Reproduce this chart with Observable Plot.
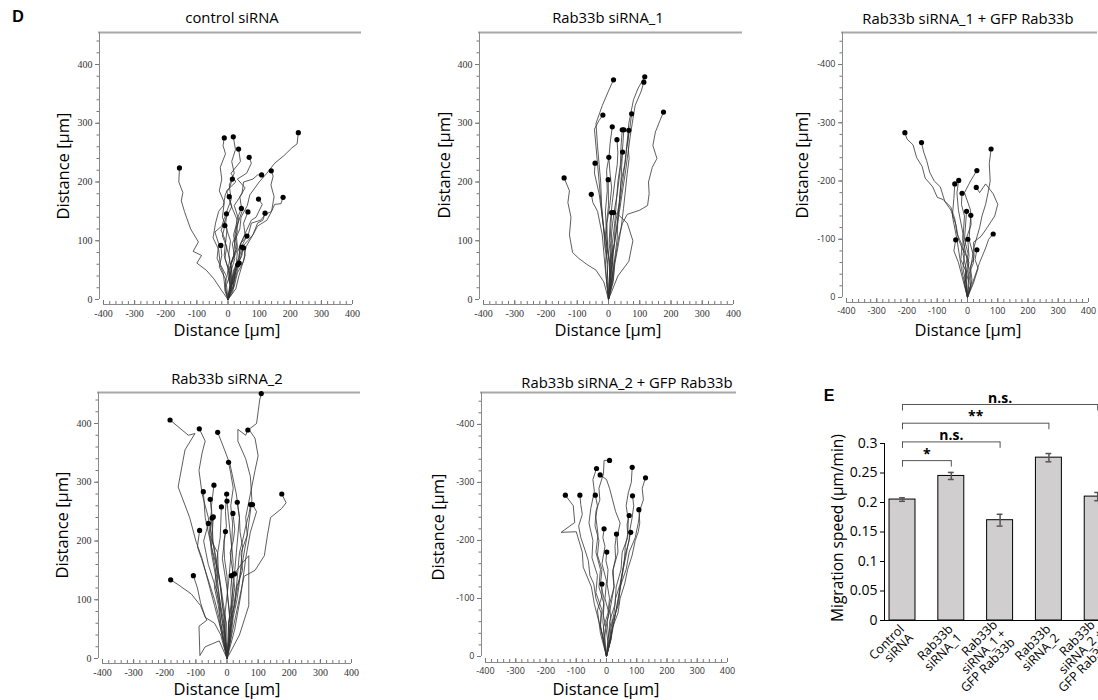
<!DOCTYPE html>
<html><head><meta charset="utf-8">
<script src="https://cdn.jsdelivr.net/npm/d3@7"></script>
<script src="https://cdn.jsdelivr.net/npm/@observablehq/plot@0.6"></script>
<style>
body{margin:0;background:#fff;overflow:hidden;font-family:"Open Sans",sans-serif;}
#root{position:relative;width:1098px;height:700px;overflow:hidden;background:#fff;}
.t{position:absolute;white-space:nowrap;transform:translate(-50%,-50%);color:#000;line-height:1;}
.title{font-size:14.8px;}
.lab{font-size:16.5px;}
.rot{transform:translate(-50%,-50%) rotate(-90deg);}
.panel{font-family:"Liberation Sans",Arial,sans-serif;font-weight:bold;font-size:16px;}
</style></head><body><div id="root"></div><script>
// ---------- DATA ----------
const xMajor = [-400,-300,-200,-100,0,100,200,300,400];
const yMajor = [0,100,200,300,400];

// Trajectories (x, y in µm), each track from origin to its end point
const controlTracks = [
  [[0,0],[-20,15],[-45,35],[-70,50],[-100,62],[-85,75],[-112,82],[-95,98],[-120,120],[-140,150],[-150,168],[-145,182],[-158,200],[-156,224]],
  [[0,0],[8,20],[-2,45],[6,70],[-8,95],[-3,120],[-18,140],[-12,165],[-28,185],[-20,205],[-25,225],[-8,248],[-16,262],[-12,275]],
  [[0,0],[-5,25],[12,50],[2,75],[8,100],[-8,125],[-4,150],[10,170],[4,195],[20,215],[12,235],[24,255],[17,277]],
  [[0,0],[10,30],[6,55],[25,85],[18,110],[30,135],[10,160],[-5,185],[25,200],[10,215],[40,235],[34,256]],
  [[0,0],[12,30],[8,60],[30,90],[25,120],[45,150],[38,175],[55,190],[30,205],[60,215],[75,232],[68,242]],
  [[0,0],[8,25],[4,50],[18,75],[22,100],[38,120],[42,140],[62,160],[70,178],[100,200],[125,215],[150,232],[180,245],[205,258],[222,265],[226,284]],
  [[0,0],[10,25],[18,50],[35,70],[40,95],[65,110],[75,130],[105,135],[120,145],[140,150],[148,175],[138,195],[145,210],[139,219]],
  [[0,0],[15,30],[10,60],[30,85],[22,110],[35,135],[20,160],[45,180],[50,200],[80,205],[95,212],[108,212]],
  [[0,0],[-8,20],[-5,40],[-25,60],[-30,85],[-48,105],[-40,130],[-30,150],[-15,160],[-8,180],[5,190],[14,205]],
  [[0,0],[6,25],[2,50],[-12,75],[-8,100],[-22,118],[-5,140],[12,158],[4,175]],
  [[0,0],[12,25],[20,50],[40,70],[50,92],[80,110],[95,125],[125,135],[140,150],[150,162],[170,163],[177,174]],
  [[0,0],[15,30],[25,50],[30,80],[45,100],[60,118],[75,135],[90,140],[110,162],[98,171]],
  [[0,0],[12,20],[8,45],[22,70],[14,95],[30,115],[28,135],[43,155]],
  [[0,0],[18,25],[22,50],[35,72],[40,95],[55,110],[50,130],[64,149]],
  [[0,0],[20,22],[30,45],[50,65],[58,90],[80,110],[95,130],[112,135],[119,147]],
  [[0,0],[-10,20],[-15,45],[-35,70],[-30,95],[-42,115],[-20,125],[-12,138],[-5,146]],
  [[0,0],[8,25],[2,50],[-10,70],[-4,90],[-18,108],[-10,126]],
  [[0,0],[10,20],[20,45],[30,60],[45,75],[48,95],[61,108]],
  [[0,0],[-10,15],[-8,35],[-28,55],[-20,75],[-23,92]],
  [[0,0],[15,20],[22,40],[30,55],[38,75],[45,89]],
  [[0,0],[25,18],[35,40],[45,58],[55,75],[50,88]],
  [[0,0],[15,12],[20,30],[28,45],[36,62]],
  [[0,0],[5,20],[20,32],[25,48],[31,59]]
];
const sirna1Tracks = [
  [[0,0],[-5,30],[-2,60],[-12,90],[-15,120],[-22,160],[-25,200],[-30,230],[-35,260],[-40,300],[-28,318],[-20,330],[0,355],[16,374]],
  [[0,0],[10,60],[25,120],[40,180],[55,240],[65,300],[80,340],[95,360],[116,379]],
  [[0,0],[15,80],[35,150],[55,220],[70,280],[85,330],[105,355],[113,370]],
  [[0,0],[8,25],[15,50],[25,80],[32,105],[45,130],[60,145],[100,152],[125,160],[130,180],[128,200],[140,225],[155,240],[142,262],[150,285],[165,305],[176,319]],
  [[0,0],[8,30],[5,60],[18,95],[22,130],[35,165],[40,200],[52,230],[58,260],[68,290],[74,316]],
  [[0,0],[-5,70],[-20,140],[-30,200],[-40,260],[-45,290],[-30,305],[-18,314]],
  [[0,0],[6,35],[2,70],[-6,110],[-10,150],[-4,185],[-6,220],[2,245],[5,265],[12,294]],
  [[0,0],[12,30],[15,60],[12,95],[20,130],[25,165],[30,200],[38,230],[40,260],[44,289]],
  [[0,0],[3,40],[8,80],[10,115],[18,150],[28,180],[35,210],[42,240],[46,265],[49,289]],
  [[0,0],[15,30],[20,60],[32,95],[40,120],[48,155],[55,190],[60,215],[66,240],[62,265],[65,288]],
  [[0,0],[8,30],[10,60],[2,95],[5,130],[12,165],[20,200],[28,230],[30,250],[27,272]],
  [[0,0],[15,35],[20,70],[28,105],[30,140],[35,170],[40,200],[42,225],[45,251]],
  [[0,0],[-6,30],[-10,60],[-4,95],[-5,130],[4,160],[10,190],[5,215],[1,242]],
  [[0,0],[5,60],[-15,120],[-30,180],[-45,215],[-43,232]],
  [[0,0],[-15,30],[-40,50],[-70,60],[-95,70],[-115,80],[-125,110],[-120,140],[-130,165],[-125,185],[-142,207]],
  [[0,0],[5,50],[-10,110],[0,160],[-1,204]],
  [[0,0],[-10,50],[-20,110],[-35,150],[-50,165],[-55,179]],
  [[0,0],[15,50],[5,100],[10,148]],
  [[0,0],[30,40],[65,65],[78,100],[60,130],[30,145],[16,148]]
];
const sirna1GfpTracks = [
  [[0,0],[-8,-20],[-5,-45],[-22,-65],[-18,-90],[-35,-110],[-42,-135],[-55,-155],[-80,-168],[-100,-172],[-115,-190],[-140,-205],[-150,-225],[-168,-240],[-180,-262],[-200,-272],[-207,-283]],
  [[0,0],[-5,-25],[-15,-50],[-10,-75],[-30,-100],[-38,-125],[-55,-150],[-75,-165],[-90,-190],[-110,-200],[-125,-215],[-135,-235],[-145,-250],[-152,-266]],
  [[0,0],[10,-20],[5,-40],[20,-60],[18,-80],[40,-120],[48,-140],[60,-160],[68,-180],[75,-200],[72,-230],[78,-255]],
  [[0,0],[-10,-25],[-5,-50],[-15,-75],[-5,-100],[12,-125],[10,-150],[-10,-180],[10,-200],[31,-218]],
  [[0,0],[-5,-30],[5,-60],[-15,-85],[-15,-110],[-30,-150],[-35,-180],[-29,-201]],
  [[0,0],[-20,-50],[-35,-100],[-50,-140],[-45,-170],[-42,-195]],
  [[0,0],[12,-25],[8,-50],[22,-70],[20,-95],[45,-105],[65,-120],[90,-140],[100,-160],[85,-178],[60,-195],[40,-180],[29,-189]],
  [[0,0],[5,-50],[-15,-100],[-10,-140],[-20,-160],[-18,-179]],
  [[0,0],[5,-25],[-8,-50],[2,-75],[-10,-100],[-3,-148]],
  [[0,0],[15,-30],[10,-50],[18,-75],[5,-100],[11,-141]],
  [[0,0],[20,-30],[40,-60],[60,-85],[70,-100],[85,-109]],
  [[0,0],[-5,-40],[5,-70],[1,-100]],
  [[0,0],[-15,-30],[-30,-60],[-45,-80],[-39,-99]],
  [[0,0],[20,-25],[35,-50],[25,-65],[31,-82]]
];
const sirna2Tracks = [
  [[0,0],[10,30],[5,60],[25,90],[30,120],[50,150],[45,180],[65,210],[60,240],[75,280],[90,320],[100,345],[90,375],[70,390],[95,400],[100,420],[105,440],[110,451]],
  [[0,0],[-20,50],[-40,90],[-60,130],[-80,170],[-100,200],[-120,240],[-157,292],[-135,355],[-103,383],[-124,380],[-183,406]],
  [[0,0],[-10,60],[-30,120],[-50,180],[-60,240],[-80,280],[-90,320],[-80,350],[-70,370],[-89,391]],
  [[0,0],[5,60],[20,120],[30,180],[40,240],[30,280],[10,330],[-15,365],[-30,385]],
  [[0,0],[20,80],[45,150],[65,210],[80,270],[75,310],[60,340],[35,370],[35,390],[60,380],[67,389]],
  [[0,0],[10,40],[15,80],[12,120],[20,160],[15,195],[18,230],[12,260],[20,290],[12,315],[5,334]],
  [[0,0],[-15,60],[-30,130],[-50,190],[-70,240],[-76,284]],
  [[0,0],[-10,70],[-25,140],[-45,200],[-50,260],[-42,295]],
  [[0,0],[15,40],[35,90],[55,140],[90,150],[120,175],[130,210],[140,240],[175,255],[190,265],[176,280]],
  [[0,0],[-5,30],[-2,60],[-15,90],[-20,120],[-32,150],[-40,180],[-48,205],[-55,230],[-50,250],[-54,271]],
  [[0,0],[8,35],[10,70],[2,105],[0,140],[-8,170],[-10,200],[-2,225],[-5,250],[-1,280]],
  [[0,0],[-10,60],[5,130],[15,190],[5,240],[0,268]],
  [[0,0],[12,35],[20,70],[32,100],[40,130],[45,160],[50,190],[42,215],[40,240],[33,266]],
  [[0,0],[-10,30],[-20,60],[-25,90],[-35,120],[-28,150],[-30,180],[-22,205],[-20,230],[-18,258]],
  [[0,0],[8,30],[15,60],[22,90],[30,120],[35,150],[40,180],[52,205],[60,225],[70,245],[76,262]],
  [[0,0],[25,50],[45,110],[60,170],[75,215],[95,250],[82,262]],
  [[0,0],[5,30],[5,60],[15,90],[25,120],[18,150],[10,180],[20,200],[25,220],[19,247]],
  [[0,0],[-5,70],[-25,140],[-50,190],[-44,241]],
  [[0,0],[-10,30],[-20,60],[-28,90],[-40,120],[-35,150],[-30,180],[-45,195],[-55,210],[-48,239]],
  [[0,0],[-10,50],[-30,110],[-60,160],[-75,200],[-60,230]],
  [[0,0],[-10,25],[-20,50],[-28,75],[-40,100],[-55,125],[-70,150],[-82,170],[-95,190],[-88,218]],
  [[0,0],[10,60],[0,120],[-15,170],[-5,216]],
  [[0,0],[-25,30],[-70,20],[-87,5],[-90,55],[-65,65],[-85,90],[-115,110],[-155,125],[-181,134]],
  [[0,0],[-20,40],[-40,60],[-70,70],[-85,95],[-95,120],[-108,141]],
  [[0,0],[10,50],[20,100],[14,141]],
  [[0,0],[40,40],[70,90],[70,175],[45,160],[24,144]]
];
const sirna2GfpTracks = [
  [[0,0],[-8,-25],[-2,-50],[-12,-75],[-8,-100],[-20,-125],[-15,-150],[-30,-175],[-25,-200],[-38,-225],[-35,-250],[-22,-270],[-25,-290],[-10,-315],[-8,-338],[10,-338]],
  [[0,0],[-10,-25],[-20,-55],[-15,-80],[-35,-110],[-30,-140],[-48,-170],[-45,-200],[-58,-230],[-52,-255],[-40,-285],[-45,-305],[-33,-324]],
  [[0,0],[12,-30],[10,-60],[28,-90],[32,-120],[48,-150],[52,-180],[70,-205],[72,-235],[65,-260],[72,-282],[82,-300],[85,-326]],
  [[0,0],[5,-30],[15,-60],[10,-90],[25,-120],[22,-150],[38,-180],[35,-205],[45,-230],[30,-250],[20,-270],[10,-290],[0,-305],[-21,-313]],
  [[0,0],[15,-30],[20,-60],[40,-90],[45,-120],[65,-150],[75,-180],[95,-205],[105,-230],[112,-255],[122,-270],[118,-290],[129,-308]],
  [[0,0],[-15,-40],[-40,-90],[-50,-120],[-77,-154],[-80,-180],[-100,-215],[-150,-214],[-105,-231],[-110,-260],[-136,-278]],
  [[0,0],[-8,-25],[-20,-50],[-18,-75],[-35,-100],[-42,-125],[-55,-140],[-60,-165],[-72,-185],[-85,-205],[-92,-225],[-80,-245],[-85,-262],[-88,-278]],
  [[0,0],[-5,-30],[-12,-60],[-8,-90],[-25,-120],[-20,-150],[-35,-180],[-28,-210],[-35,-240],[-30,-260],[-37,-278]],
  [[0,0],[10,-25],[15,-50],[25,-75],[30,-100],[45,-125],[55,-150],[62,-175],[75,-200],[78,-220],[85,-240],[90,-260],[86,-277]],
  [[0,0],[12,-25],[20,-50],[38,-75],[45,-100],[60,-125],[70,-150],[85,-175],[95,-200],[105,-215],[110,-230],[107,-253]],
  [[0,0],[15,-30],[25,-60],[35,-90],[45,-120],[52,-145],[60,-170],[62,-190],[70,-210],[68,-228],[75,-243]],
  [[0,0],[5,-25],[-2,-50],[8,-75],[-5,-100],[0,-130],[-15,-160],[-5,-190],[-12,-205],[-8,-220]],
  [[0,0],[8,-30],[2,-60],[15,-90],[25,-120],[20,-145],[30,-170],[28,-190],[33,-211]],
  [[0,0],[10,-25],[20,-50],[30,-75],[40,-100],[48,-125],[55,-150],[65,-175],[70,-190],[80,-214]],
  [[0,0],[-8,-25],[-10,-50],[5,-75],[10,-100],[2,-125],[5,-150],[-2,-165],[1,-180]],
  [[0,0],[-10,-20],[-20,-40],[-25,-60],[-30,-80],[-20,-95],[-15,-105],[-15,-125]]
];

// Bar chart (E)
const speedCats = ["Control siRNA","Rab33b siRNA_1","Rab33b siRNA_1 + GFP Rab33b","Rab33b siRNA_2","Rab33b siRNA_2 + GFP Rab33b"];
const speedLabels = ["Control\nsiRNA","Rab33b\nsiRNA_1","Rab33b\nsiRNA_1 +\nGFP Rab33b","Rab33b\nsiRNA_2","Rab33b\nsiRNA_2 +\nGFP Rab33b"];
const speedMean = [0.205,0.245,0.170,0.276,0.210];
const speedErr = [0.003,0.006,0.010,0.007,0.007];
const speedTicks = [0,0.05,0.1,0.15,0.2,0.25,0.3];
const sigTargets = [1,2,3,4];           // compared with control (index 0)
const sigLabels = ["*","n.s.","**","n.s."];

// ---------- DRAW ----------
const root = document.getElementById("root");
function place(el, left, top){
  el.style.position="absolute"; el.style.left=left+"px"; el.style.top=top+"px";
  el.style.background="transparent"; el.style.overflow="visible"; el.style.maxWidth="none";
  root.appendChild(el);
}
function addText(txt, cx, cy, cls){
  const d=document.createElement("div"); d.className="t "+cls; d.textContent=txt;
  d.style.left=cx+"px"; d.style.top=cy+"px"; root.appendChild(d); return d;
}

function trajPanel(tracks, L){
  const s = L.neg ? -1 : 1;
  const rows = tracks.flatMap((t,i)=>t.map(([x,y])=>({x,y,track:i})));
  const ends = tracks.map(t=>({x:t[t.length-1][0], y:t[t.length-1][1]}));
  const fmt = d => String(d);
  const tickFont = L.serif ? "Liberation Serif" : "Open Sans";
  const tickFs = L.serif ? 10 : 9;
  const yTop = L.yDomain[1];
  return Plot.plot({
    width:370, height:350,
    marginLeft:L.ml, marginRight:L.mr, marginTop:L.mt, marginBottom:L.mb,
    x:{domain:[-400,400]},
    y:{domain:L.yDomain},
    marks:[
      Plot.ruleY([yTop],{stroke:"#a8a8a8",strokeWidth:2,insetLeft:-5,insetRight:-9}),
      Plot.ruleX([-400],{y1:0,y2:yTop,dx:-4,stroke:"#8a8a8a"}),
      Plot.ruleY([L.yDomain[0]],{stroke:"#8a8a8a"}),
      Plot.axisY(d3.range(0,441,20).map(v=>v*s),{anchor:"left",tickSize:2.5,dx:-4,fill:"none",stroke:"#777",label:null}),
      Plot.axisY(yMajor.map(v=>v*s),{anchor:"left",tickSize:4,tickPadding:3,dx:-4,tickFormat:fmt,stroke:"#777",fill:"#333",fontSize:tickFs,fontFamily:tickFont,label:null}),
      Plot.axisX(d3.range(-400,401,20),{anchor:"bottom",tickSize:-3,fill:"none",stroke:"#777",label:null}),
      Plot.axisX(xMajor,{anchor:"bottom",tickSize:-4,stroke:"#777",fill:"none",label:null}),
      Plot.axisX(xMajor,{anchor:"bottom",tickSize:0,tickPadding:5,tickFormat:fmt,fill:"#333",fontSize:tickFs,fontFamily:tickFont,label:null}),
      Plot.line(rows,{x:"x",y:"y",z:"track",stroke:"#333",strokeWidth:0.8}),
      Plot.dot(ends,{x:"x",y:"y",r:2.6,fill:"#000"})
    ]
  });
}

const panels = [
  {tracks:controlTracks, title:"control siRNA", left:0, top:0, ml:103, mr:18, mt:32, mb:46, yDomain:[-8.5,454.5], serif:true,
   tx:232, ty:17, xl:[227,330], yl:[63,166]},
  {tracks:sirna1Tracks, title:"Rab33b siRNA_1", left:370, top:0, ml:113, mr:7, mt:32, mb:46, yDomain:[-8.5,454.5], serif:true,
   tx:608, ty:17, xl:[608,330], yl:[444,165]},
  {tracks:sirna1GfpTracks, title:"Rab33b siRNA_1 + GFP Rab33b", left:740, top:0, ml:106, mr:22, mt:32, mb:48, yDomain:[8.6,-455], serif:false, neg:true,
   tx:968, ty:18, xl:[968,330], yl:[802,165]},
  {tracks:sirna2Tracks, title:"Rab33b siRNA_2", left:0, top:350, ml:102, mr:19, mt:42, mb:37, yDomain:[-8.5,452.8], serif:true,
   tx:227, ty:378, xl:[227,689], yl:[62,525]},
  {tracks:sirna2GfpTracks, title:"Rab33b siRNA_2 + GFP Rab33b", left:400, top:350, ml:85, mr:43, mt:42, mb:38, yDomain:[10.3,-455], serif:false, neg:true,
   tx:627, ty:382, xl:[606,689], yl:[438,527]}
];
for (const p of panels){
  place(trajPanel(p.tracks, p), p.left, p.top);
  addText(p.title, p.tx, p.ty, "title");
  addText("Distance [µm]", p.xl[0], p.xl[1], "lab");
  addText("Distance [µm]", p.yl[0], p.yl[1], "lab rot");
}

// Bar chart E
const half = 0.266, cap = 0.06;
const bars = speedCats.map((c,i)=>({i, cat:c, label:speedLabels[i], m:speedMean[i], e:speedErr[i]}));
const sig = sigTargets.map((t,k)=>({to:t, label:sigLabels[k], h:0.271 + k*0.0317}));
const xMinE = -0.369;
const barPlot = Plot.plot({
  width:400, height:320, marginLeft:84, marginRight:54, marginTop:63, marginBottom:80,
  x:{type:"linear", domain:[xMinE,5]},
  y:{domain:[0,0.3]},
  style:{fontFamily:"Open Sans"},
  marks:[
    Plot.rectY(bars,{x1:d=>d.i-half, x2:d=>d.i+half, y1:0, y2:"m", fill:"#d0cece", stroke:"#000", strokeWidth:1}),
    Plot.ruleX(bars,{x:"i", y1:d=>d.m-d.e, y2:d=>d.m+d.e, stroke:"#555", strokeWidth:1.5}),
    Plot.ruleY(bars,{y:d=>d.m-d.e, x1:d=>d.i-cap, x2:d=>d.i+cap, stroke:"#555", strokeWidth:1.5}),
    Plot.ruleY(bars,{y:d=>d.m+d.e, x1:d=>d.i-cap, x2:d=>d.i+cap, stroke:"#555", strokeWidth:1.5}),
    Plot.ruleX([xMinE],{y1:0,y2:0.3,stroke:"#000"}),
    Plot.ruleY([0],{stroke:"#000"}),
    Plot.axisY(speedTicks,{anchor:"left",tickSize:4,tickPadding:3,fontSize:14,fill:"#000",tickFormat:d=>String(d),label:null}),
    Plot.axisX([],{label:null}),
    Plot.link(sig,{x1:0, x2:"to", y1:"h", y2:"h", stroke:"#555", strokeWidth:1}),
    Plot.ruleX(sig,{x:0, y1:"h", y2:d=>d.h-0.011, stroke:"#555"}),
    Plot.ruleX(sig,{x:"to", y1:"h", y2:d=>d.h-0.011, stroke:"#555"}),
    Plot.text(sig,{x:d=>d.to/2, y:"h", text:"label", dy:-2, lineAnchor:"bottom", fontWeight:"bold", fontSize:14, fill:"#000"}),
    Plot.text(bars,{x:"i", frameAnchor:"bottom", text:"label", rotate:-45, textAnchor:"end", lineAnchor:"middle", dx:4, dy:11, fontSize:12.5, fill:"#000", lineHeight:1.0})
  ]
});
place(barPlot, 800, 380);
const ylabE = addText("Migration speed (µm/min)", 838, 528, "lab rot");
ylabE.style.fontSize = "15.5px";
addText("D", 18, 17, "panel");
addText("E", 829, 396, "panel");
</script></body></html>
